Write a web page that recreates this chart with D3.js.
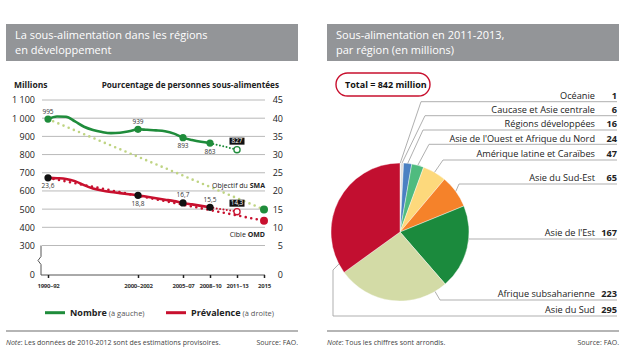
<!DOCTYPE html>
<html>
<head>
<meta charset="utf-8">
<script src="https://cdn.jsdelivr.net/npm/d3@7"></script>
<style>
  body { margin: 0; background: #fff; }
  svg { display: block; font-family: 'Open Sans', sans-serif; }
</style>
</head>
<body>
<div id="chart"></div>
<script>
// ---- data: left chart ----
const years = [1991, 1992, 1993, 1994, 1995, 1996, 1997, 1998, 1999, 2000,
               2001, 2002, 2003, 2004, 2005, 2006, 2007, 2008, 2009];
const numberMillions = [995, 1009, 1008, 982, 953, 935, 924, 918, 920, 928,
                        939, 936, 933, 928, 915, 893, 880, 870, 863];
const prevalencePct = [23.6, 23.5, 23.3, 22.7, 21.6, 20.7, 20.1, 19.7, 19.4, 19.1,
                       18.8, 18.4, 18.0, 17.6, 17.2, 16.7, 16.3, 15.9, 15.5];
const keyYears = [1991, 2001, 2006, 2009];
const projYears = [2009, 2012];
const numberProj = [863, 827];
const prevalenceProj = [15.5, 14.3];
const targetYears = [1991, 2015];
const numberTarget = [995, 498];     // Objectif du SMA
const prevalenceTarget = [23.6, 11.8]; // Cible OMD
const tickYears = [1991, 2001, 2006, 2009, 2012, 2015];
const tickLabels = ['1990–92', '2000–2002', '2005–07', '2008–10', '2011–13', '2015'];
const leftTicks = [0, 300, 400, 500, 600, 700, 800, 900, 1000, 1100];
const rightTicks = [0, 5, 10, 15, 20, 25, 30, 35, 40, 45];

// ---- data: pie ----
const regions = ['Océanie', 'Caucase et Asie centrale', 'Régions développées',
  'Asie de l\'Ouest et Afrique du Nord', 'Amérique latine et Caraïbes', 'Asie du Sud-Est',
  'Asie de l\'Est', 'Afrique subsaharienne', 'Asie du Sud'];
const regionValues = [1, 6, 16, 24, 47, 65, 167, 223, 295];
const regionColors = ['#c8c8c8', '#dedede', '#4a80c2', '#4fbb7f', '#fdd97c',
                      '#f5822a', '#1b8a3d', '#d3dba6', '#c20f30'];

const W = 625, H = 361;
const green = '#1f8c3b', red = '#c8102e', lightGreen = '#bfd483';

const fr = d3.formatLocale({ decimal: ',', thousands: '\u00a0', grouping: [3], currency: ['', ''] });
const fmtInt = fr.format(',d');
const fmt1 = fr.format('.1f');

const svg = d3.select('#chart').append('svg')
  .attr('width', W).attr('height', H);

svg.append('rect').attr('width', W).attr('height', H).attr('fill', '#fff');

// headers
function header(x0, x1, lines) {
  svg.append('rect')
    .attr('x', x0).attr('y', 24).attr('width', x1 - x0).attr('height', 37)
    .attr('fill', '#939598');
  const t = svg.append('text')
    .attr('x', x0 + 9).attr('y', 39)
    .attr('fill', '#fff').style('font-size', '11px');
  lines.forEach((l, i) => {
    t.append('tspan').attr('x', x0 + 9).attr('dy', i ? 14.5 : 0).text(l);
  });
}
header(6, 298, ['La sous-alimentation dans les régions', 'en développement']);
header(327, 619, ['Sous-alimentation en 2011-2013,', 'par région (en millions)']);

// ---- left chart ----
const x = d3.scaleLinear().domain([1991, 2015]).range([48, 264]);
const yL = d3.scaleLinear().domain([0, 300, 1100]).range([275, 245.5, 100]);
const yR = d3.scaleLinear().domain([0, 5, 45]).range([275, 245.5, 100]);
const plotL = 42, plotR = 265;

const g = svg.append('g');

g.append('text').attr('x', 14).attr('y', 87.5)
  .style('font-size', '8.5px').style('font-weight', 700).attr('fill', '#222')
  .text('Millions');
g.append('text').attr('x', 279).attr('y', 87.5).attr('text-anchor', 'end')
  .style('font-size', '8.2px').style('font-weight', 700).attr('fill', '#222')
  .text('Pourcentage de personnes sous-alimentées');

// grid
g.append('g').selectAll('line')
  .data(leftTicks.filter(d => d > 0))
  .join('line')
  .attr('x1', plotL).attr('x2', plotR)
  .attr('y1', d => yL(d)).attr('y2', d => yL(d))
  .attr('stroke', '#b9b9b9').attr('stroke-width', 1);

// axes
const axL = g.append('g').attr('transform', `translate(${plotL},0)`)
  .call(d3.axisLeft(yL).tickValues(leftTicks).tickSize(0).tickPadding(7).tickFormat(fmtInt));
const axR = g.append('g').attr('transform', `translate(${plotR},0)`)
  .call(d3.axisRight(yR).tickValues(rightTicks).tickSize(0).tickFormat(d3.format('d')));
axR.selectAll('text').attr('text-anchor', 'end').attr('x', 18);
[axL, axR].forEach(a => {
  a.select('.domain').remove();
  a.selectAll('text').style('font-size', '9px').style('font-family', 'Open Sans').attr('fill', '#222');
});

// baseline + broken axis
g.append('line').attr('x1', plotL - 1).attr('x2', plotR)
  .attr('y1', yL(0)).attr('y2', yL(0)).attr('stroke', '#555').attr('stroke-width', 1);
g.append('path')
  .attr('d', `M${plotL - 1},${yL(300)} V${yL(300) + 11} L${plotL - 4},${yL(300) + 15} L${plotL - 1},${yL(300) + 19} V${yL(0)}`)
  .attr('fill', 'none').attr('stroke', '#555').attr('stroke-width', 1);

const axB = g.append('g').attr('transform', `translate(0,${yL(0)})`)
  .call(d3.axisBottom(x).tickValues(tickYears).tickSize(3).tickPadding(6)
    .tickFormat((d, i) => tickLabels[i]));
axB.select('.domain').remove();
axB.selectAll('line').attr('stroke', '#222').attr('stroke-width', 1.5);
axB.selectAll('text').style('font-size', '6px').style('font-weight', 700)
  .style('letter-spacing', '-0.2px')
  .style('font-family', 'Open Sans').attr('fill', '#333');

// series tables
const numberData = years.map((yr, i) => ({ year: yr, v: numberMillions[i] }));
const prevData = years.map((yr, i) => ({ year: yr, v: prevalencePct[i] }));
const lineL = d3.line().x(d => x(d.year)).y(d => yL(d.v)).curve(d3.curveMonotoneX);
const lineR = d3.line().x(d => x(d.year)).y(d => yR(d.v)).curve(d3.curveMonotoneX);
const pairs = (ys, vs) => ys.map((yr, i) => ({ year: yr, v: vs[i] }));

// target lines
g.append('path').datum(pairs(targetYears, numberTarget)).attr('d', lineL)
  .attr('fill', 'none').attr('stroke', lightGreen).attr('stroke-width', 2.6)
  .attr('stroke-linecap', 'round').attr('stroke-dasharray', '0,5.6');
g.append('path').datum(pairs(targetYears, prevalenceTarget)).attr('d', lineR)
  .attr('fill', 'none').attr('stroke', red).attr('stroke-width', 2.6)
  .attr('stroke-linecap', 'round').attr('stroke-dasharray', '0,5.6');

// projections
g.append('path').datum(pairs(projYears, numberProj)).attr('d', lineL)
  .attr('fill', 'none').attr('stroke', green).attr('stroke-width', 2)
  .attr('stroke-linecap', 'round').attr('stroke-dasharray', '0,3.4');
g.append('path').datum(pairs(projYears, prevalenceProj)).attr('d', lineR)
  .attr('fill', 'none').attr('stroke', red).attr('stroke-width', 2)
  .attr('stroke-linecap', 'round').attr('stroke-dasharray', '0,3.4');

// main lines
g.append('path').datum(numberData).attr('d', lineL)
  .attr('fill', 'none').attr('stroke', green).attr('stroke-width', 2.6);
g.append('path').datum(prevData).attr('d', lineR)
  .attr('fill', 'none').attr('stroke', red).attr('stroke-width', 2.6);

// key points
const numKey = numberData.filter(d => keyYears.includes(d.year));
const prevKey = prevData.filter(d => keyYears.includes(d.year));
const numPos = [-1, -1, 1, 1];  // -1 above, 1 below
const prevPos = [1, 1, -1, -1];

g.selectAll('.num-dot').data(numKey).join('circle')
  .attr('cx', d => x(d.year)).attr('cy', d => yL(d.v)).attr('r', 3.6).attr('fill', green);
g.selectAll('.prev-dot').data(prevKey).join('circle').attr('class', 'prev-dot')
  .attr('cx', d => x(d.year)).attr('cy', d => yR(d.v)).attr('r', 3.6).attr('fill', '#111');

const lbl = (sel, fy, pos, f) => sel
  .attr('x', d => x(d.year))
  .attr('y', (d, i) => fy(d.v) + (pos[i] < 0 ? -5.5 : 10.5))
  .attr('text-anchor', 'middle').style('font-size', '6.5px').attr('fill', '#333')
  .text(d => f(d.v));
g.selectAll('.num-lbl').data(numKey).join('text').attr('class', 'num-lbl')
  .call(lbl, yL, numPos, fmtInt);
g.selectAll('.prev-lbl').data(prevKey).join('text').attr('class', 'prev-lbl')
  .call(lbl, yR, prevPos, fmt1);

// 2012 estimates: open circles with boxed labels
[[numberProj[1], yL, green, fmtInt], [prevalenceProj[1], yR, red, fmt1]].forEach(([v, sc, c, f]) => {
  const cx = x(projYears[1]), cy = sc(v);
  g.append('rect').attr('x', cx - 7.5).attr('y', cy - 12).attr('width', 15).attr('height', 7)
    .attr('fill', '#111');
  g.append('text').attr('x', cx).attr('y', cy - 6.2).attr('text-anchor', 'middle')
    .style('font-size', '6.3px').attr('fill', '#fff').text(f(v));
  g.append('circle').attr('cx', cx).attr('cy', cy).attr('r', 3.1)
    .attr('fill', '#fff').attr('stroke', c).attr('stroke-width', 1.3);
});

// 2015 targets
g.append('circle').attr('cx', x(targetYears[1])).attr('cy', yL(numberTarget[1]))
  .attr('r', 4).attr('fill', green);
g.append('circle').attr('cx', x(targetYears[1])).attr('cy', yR(prevalenceTarget[1]))
  .attr('r', 4).attr('fill', red);

const sma = g.append('text').attr('x', plotR).attr('y', 187.5).attr('text-anchor', 'end')
  .style('font-size', '7px').attr('fill', '#222');
sma.append('tspan').text('Objectif du ');
sma.append('tspan').style('font-weight', 700).text('SMA');
const omd = g.append('text').attr('x', plotR).attr('y', 236.5).attr('text-anchor', 'end')
  .style('font-size', '7px').attr('fill', '#222');
omd.append('tspan').text('Cible ');
omd.append('tspan').style('font-weight', 700).text('OMD');

// legend
[[45, green, 'Nombre', ' (à gauche)'], [166, red, 'Prévalence', ' (à droite)']].forEach(([lx, c, b, n]) => {
  g.append('line').attr('x1', lx).attr('x2', lx + 20).attr('y1', 312.7).attr('y2', 312.7)
    .attr('stroke', c).attr('stroke-width', 3);
  const t = g.append('text').attr('x', lx + 25).attr('y', 316).attr('fill', '#222');
  t.append('tspan').style('font-size', '9px').style('font-weight', 700).text(b);
  t.append('tspan').style('font-size', '7.5px').attr('fill', '#555').text(n);
});

// footers
function footer(x0, x1, note) {
  svg.append('line').attr('x1', x0).attr('x2', x1).attr('y1', 331).attr('y2', 331)
    .attr('stroke', '#9d9d9d').attr('stroke-width', 1.5);
  const t = svg.append('text').attr('x', x0).attr('y', 344.5)
    .style('font-size', '7px').attr('fill', '#444');
  t.append('tspan').style('font-style', 'italic').text('Note');
  t.append('tspan').text(': ' + note);
  svg.append('text').attr('x', x1).attr('y', 344.5).attr('text-anchor', 'end')
    .style('font-size', '7px').attr('fill', '#444').text('Source: FAO.');
}
footer(6, 298, 'Les données de 2010-2012 sont des estimations provisoires.');
footer(327, 619, 'Tous les chiffres sont arrondis.');

// ---- pie ----
const cx = 400, cy = 232, r = 69;
const total = 842;
svg.append('rect').attr('x', 336).attr('y', 73).attr('width', 94).attr('height', 23)
  .attr('rx', 11.5).attr('fill', 'none').attr('stroke', red).attr('stroke-width', 1.4);
svg.append('text').attr('x', 345).attr('y', 88).style('font-size', '9px')
  .style('font-weight', 700).attr('fill', '#111').text(`Total = ${total} million`);

const pie = d3.pie().sort(null).value(d => d)(regionValues);
const arc = d3.arc().innerRadius(0).outerRadius(r);
const pg = svg.append('g').attr('transform', `translate(${cx},${cy})`);
pg.selectAll('path').data(pie).join('path')
  .attr('d', arc).attr('fill', (d, i) => regionColors[i])
  .attr('stroke', '#fff').attr('stroke-width', 0.4);

// label rows (underline y), leader anchor position within slice, elbow point
const rowY = [101.7, 115.7, 130, 144.3, 160, 184, 239, 300, 316];
const anchorAt = [0.5, 0.5, 0.5, 0.5, 0.5, 0.5, 0.39, 0.11, 0.065];
const elbow = [[421], [425], [423], [429], [443], [459], [null], [440], [333, 270]];
const lineEnd = 617;

pie.forEach((d, i) => {
  const a = d.startAngle + (d.endAngle - d.startAngle) * anchorAt[i];
  const ax = cx + r * Math.sin(a), ay = cy - r * Math.cos(a);
  const ex = elbow[i][0] == null ? ax : elbow[i][0];
  const ey = elbow[i][1] == null ? rowY[i] : elbow[i][1];
  svg.append('path')
    .attr('d', `M${ax},${ay} L${ex},${ey} L${ex},${rowY[i]} L${lineEnd},${rowY[i]}`)
    .attr('fill', 'none').attr('stroke', '#a6a6a6').attr('stroke-width', 0.9);
  svg.append('text').attr('x', 595).attr('y', rowY[i] - 2.8).attr('text-anchor', 'end')
    .style('font-size', '9.2px').attr('fill', '#222').text(regions[i]);
  svg.append('text').attr('x', lineEnd).attr('y', rowY[i] - 2.8).attr('text-anchor', 'end')
    .style('font-size', '9.2px').style('font-weight', 700).attr('fill', '#222').text(d.data);
});
</script>
</body>
</html>
